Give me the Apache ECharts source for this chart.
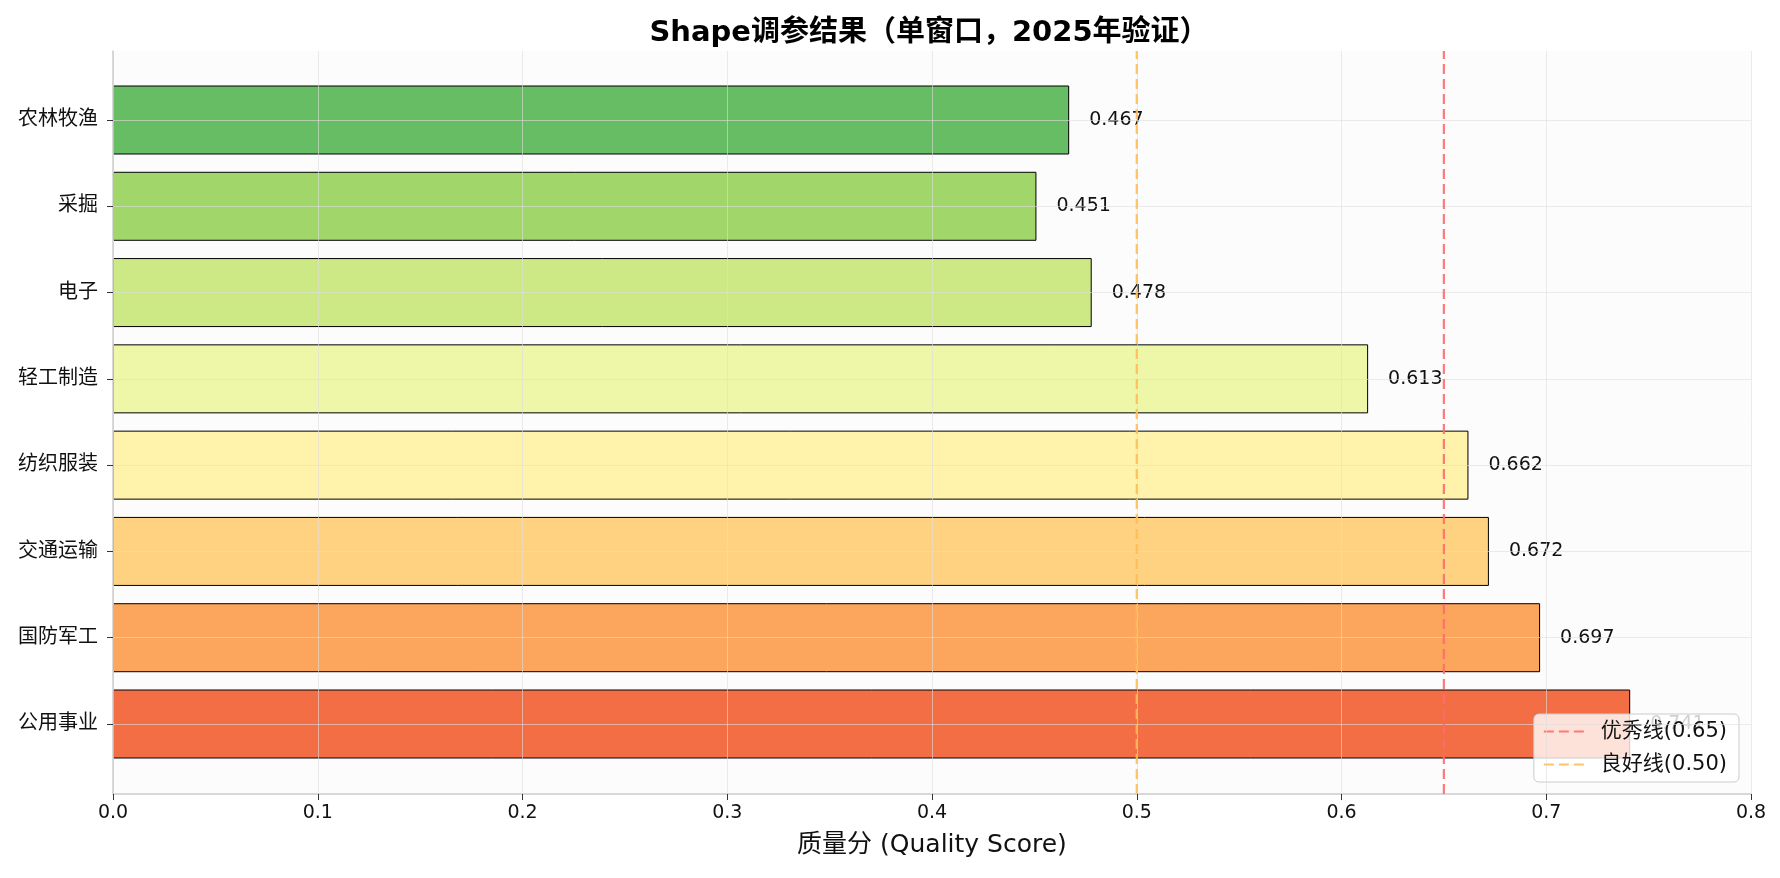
<!DOCTYPE html>
<html>
<head>
<meta charset="utf-8">
<script src="https://cdn.jsdelivr.net/npm/echarts@6/dist/echarts.min.js"></script>
<style>
html,body{margin:0;padding:0;background:#fff;}
#chart{width:1780px;height:878px;}
</style>
</head>
<body>
<div id="chart"></div>
<script>
const categories = ['农林牧渔', '采掘', '电子', '轻工制造', '纺织服装', '交通运输', '国防军工', '公用事业'];
const scores = [0.467, 0.451, 0.478, 0.613, 0.662, 0.672, 0.697, 0.741];
const barColors = ['#66bd63', '#a1d76a', '#cde985', '#eef6a8', '#fff2ab', '#fed280', '#fca55d', '#f46e45'];
const excellentLine = 0.65;
const goodLine = 0.50;
const xTicks = { min: 0, max: 0.8, interval: 0.1 };

const FONT = '"DejaVu Sans", "Noto Sans CJK SC", sans-serif';
const gridLineColor = 'rgba(222,222,222,0.6)';

const chart = echarts.init(document.getElementById('chart'));
chart.setOption({
  backgroundColor: '#ffffff',
  textStyle: { fontFamily: FONT },
  title: {
    text: 'Shape调参结果（单窗口，2025年验证）',
    left: 924, top: 14, textAlign: 'center',
    textStyle: { fontFamily: FONT, fontSize: 29, fontWeight: 'bold', color: '#000' }
  },
  legend: {
    orient: 'vertical', right: 41, top: 714,
    data: ['优秀线(0.65)', '良好线(0.50)'],
    itemWidth: 40, itemHeight: 14, itemGap: 12,
    padding: [7, 12, 7, 9],
    itemStyle: { opacity: 0 },
    backgroundColor: 'rgba(255,255,255,0.8)',
    borderColor: '#cccccc', borderWidth: 1, borderRadius: 5,
    textStyle: { fontFamily: FONT, fontSize: 21, color: '#111', padding: [0, 0, 0, 12] }
  },
  grid: [
    { left: 113, right: 29, top: 51, bottom: 84, show: true, backgroundColor: '#fcfcfc', borderWidth: 0 },
    { left: 113, right: 29, top: 120, bottom: 154, show: false }
  ],
  xAxis: [
    {
      gridIndex: 0, type: 'value', min: xTicks.min, max: xTicks.max, interval: xTicks.interval, z: 5,
      axisLine: { show: true, lineStyle: { color: '#cccccc', width: 1.5 } },
      axisTick: { show: true, length: 6, lineStyle: { color: '#333' } },
      axisLabel: { formatter: v => v.toFixed(1), fontSize: 19, color: '#111', margin: 10, fontFamily: FONT },
      splitLine: { show: true, lineStyle: { color: gridLineColor, width: 1 } },
      name: '质量分 (Quality Score)', nameLocation: 'middle', nameGap: 39,
      nameTextStyle: { fontSize: 25, color: '#111', fontFamily: FONT }
    },
    { gridIndex: 1, type: 'value', min: xTicks.min, max: xTicks.max, show: false }
  ],
  yAxis: [
    {
      gridIndex: 0, type: 'value', min: 0, max: 1, z: 5,
      axisLine: { show: true, lineStyle: { color: '#cccccc', width: 1.5 } },
      axisTick: { show: false }, axisLabel: { show: false }, splitLine: { show: false }
    },
    {
      gridIndex: 1, type: 'category', data: categories, inverse: true, boundaryGap: false, z: 5,
      axisLine: { show: false },
      axisTick: { show: true, length: 6, lineStyle: { color: '#333' } },
      axisLabel: { fontSize: 20, color: '#111', margin: 15, fontFamily: FONT },
      splitLine: { show: true, lineStyle: { color: gridLineColor, width: 1 } }
    }
  ],
  series: [
    {
      type: 'bar', xAxisIndex: 1, yAxisIndex: 1, barWidth: 69, z: 2,
      data: scores.map((v, i) => ({ value: v, itemStyle: { color: barColors[i] } })),
      itemStyle: { borderColor: '#000', borderWidth: 1 },
      label: {
        show: true, position: 'right', distance: 20,
        formatter: p => p.value.toFixed(3),
        fontSize: 19, color: '#111', fontFamily: FONT
      }
    },
    {
      name: '优秀线(0.65)', type: 'line', xAxisIndex: 0, yAxisIndex: 0, symbol: 'none', z: 6,
      data: [[excellentLine, 0], [excellentLine, 1]],
      lineStyle: { color: '#ff6b6b', width: 2.2, type: [10, 5], opacity: 0.9 },
      itemStyle: { color: '#ff6b6b' }
    },
    {
      name: '良好线(0.50)', type: 'line', xAxisIndex: 0, yAxisIndex: 0, symbol: 'none', z: 6,
      data: [[goodLine, 0], [goodLine, 1]],
      lineStyle: { color: '#ffbb55', width: 2.2, type: [10, 5], opacity: 0.9 },
      itemStyle: { color: '#ffbb55' }
    }
  ]
});
</script>
</body>
</html>
